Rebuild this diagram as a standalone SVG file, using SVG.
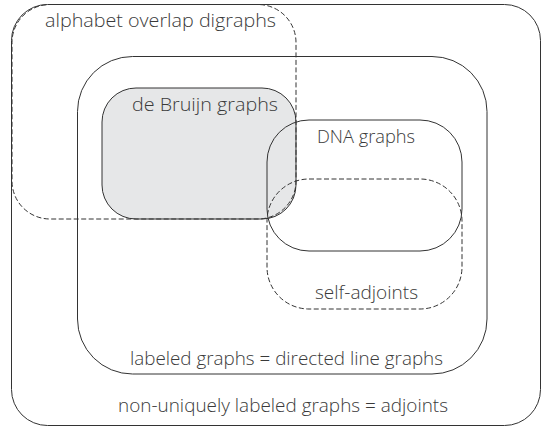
<svg xmlns="http://www.w3.org/2000/svg" width="542" height="427" viewBox="0 0 542 427">
<style>
  .box { fill: none; stroke: #333; stroke-width: 1; }
  .dash { stroke-dasharray: 5 2.5; }
  .gray { fill: #e6e7e8; }
  text { font-family: "Open Sans", "Noto Sans", "Liberation Sans", sans-serif; font-weight: 300; font-size: 18px; fill: #3a3a3a; }
</style>
<rect width="542" height="427" fill="#ffffff"/>
<g id="debruijn">
  <rect class="box gray" x="102" y="88" width="194" height="131" rx="34"/>
  <text x="132" y="111" textLength="146" lengthAdjust="spacingAndGlyphs">de Bruijn graphs</text>
</g>
<g id="outer">
  <rect class="box" x="11.5" y="4.5" width="529" height="421" rx="36"/>
  <text x="118" y="412" textLength="330" lengthAdjust="spacingAndGlyphs">non-uniquely labeled graphs = adjoints</text>
</g>
<g id="alphabet">
  <rect class="box dash" x="12" y="4.5" width="284" height="214.5" rx="38"/>
  <text x="45" y="27" textLength="231" lengthAdjust="spacingAndGlyphs">alphabet overlap digraphs</text>
</g>
<g id="labeled">
  <rect class="box" x="77.5" y="56.5" width="409.5" height="317.5" rx="55"/>
  <text x="130" y="365" textLength="313" lengthAdjust="spacingAndGlyphs">labeled graphs = directed line graphs</text>
</g>
<g id="dna">
  <rect class="box" x="267" y="120" width="195" height="131" rx="42"/>
  <text x="317" y="143" textLength="98" lengthAdjust="spacingAndGlyphs">DNA graphs</text>
</g>
<g id="selfadjoints">
  <rect class="box dash" x="267" y="179" width="195" height="130" rx="42"/>
  <text x="315" y="299" textLength="103" lengthAdjust="spacingAndGlyphs">self-adjoints</text>
</g>
<g id="connectors"></g>
</svg>
